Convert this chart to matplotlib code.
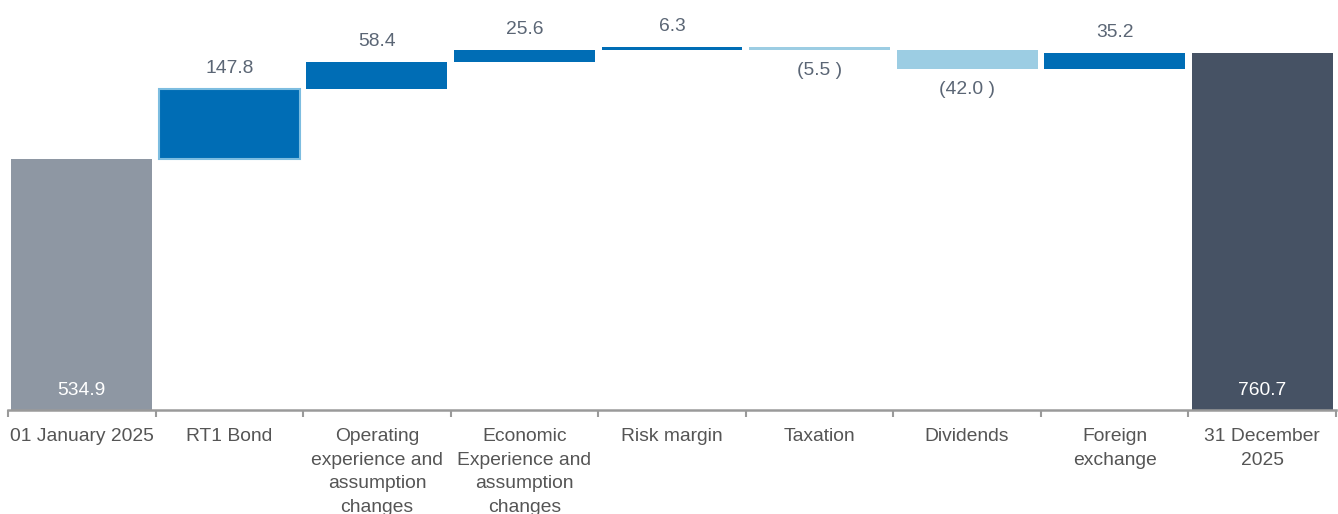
import numpy as np
import matplotlib.pyplot as plt

# data
categories = ["01 January 2025", "RT1 Bond", "Operating\nexperience and\nassumption\nchanges",
              "Economic\nExperience and\nassumption\nchanges", "Risk margin", "Taxation",
              "Dividends", "Foreign\nexchange", "31 December\n2025"]
start_value = 534.9
changes = [147.8, 58.4, 25.6, 6.3, -5.5, -42.0, 35.2]
end_value = 760.7

c_blue = "#006db5"
c_light = "#9ccde3"
c_start = "#8e97a3"
c_end = "#465264"
c_text = "#5b6675"
fs = 13.9

plt.rcParams['font.family'] = ['Liberation Sans', 'DejaVu Sans']

fig = plt.figure(figsize=(13.38, 5.14), dpi=100)
ax = fig.add_axes([8 / 1338, 1 - 410 / 514, 1328 / 1338, 410 / 514])

x = np.arange(len(categories))
w = 0.955

# start and end bars
ax.bar(x[0], start_value, width=w, color=c_start)
ax.bar(x[-1], end_value, width=w, color=c_end)
ax.text(x[0], 24, f"{start_value:.1f}", ha='center', va='bottom', color='white', fontsize=fs)
ax.text(x[-1], 24, f"{end_value:.1f}", ha='center', va='bottom', color='white', fontsize=fs)

level = start_value
for i, v in enumerate(changes):
    xi = x[i + 1]
    bottom = level if v >= 0 else level + v
    col = c_blue if v >= 0 else c_light
    if i == 0:
        ax.bar(xi, abs(v), bottom=bottom, width=w, color=col, edgecolor="#7dbde0", linewidth=1.5)
    else:
        ax.bar(xi, abs(v), bottom=bottom, width=w, color=col)
    if v >= 0:
        ax.text(xi, level + v + 26, f"{v:.1f}", ha='center', va='bottom', color=c_text, fontsize=fs)
    else:
        ax.text(xi, level + v - 26, f"({abs(v):.1f} )", ha='center', va='top', color=c_text, fontsize=fs)
    level += v

ax.set_xlim(-0.5, len(categories) - 0.5)
ax.set_ylim(0, 873)
ax.set_yticks([])
ax.set_xticks(x)
ax.set_xticklabels(categories, fontsize=fs, color="#555555", linespacing=1.5)
ax.tick_params(axis='x', which='major', length=0, pad=13)
ax.set_xticks(np.arange(-0.5, len(categories)), minor=True)
ax.tick_params(axis='x', which='minor', length=5, width=1.5, color="#9a9a9a", direction='out')
for s in ['top', 'left', 'right']:
    ax.spines[s].set_visible(False)
ax.spines['bottom'].set_color("#9a9a9a")
ax.spines['bottom'].set_linewidth(1.8)

fig.savefig("out.png", dpi=100)
